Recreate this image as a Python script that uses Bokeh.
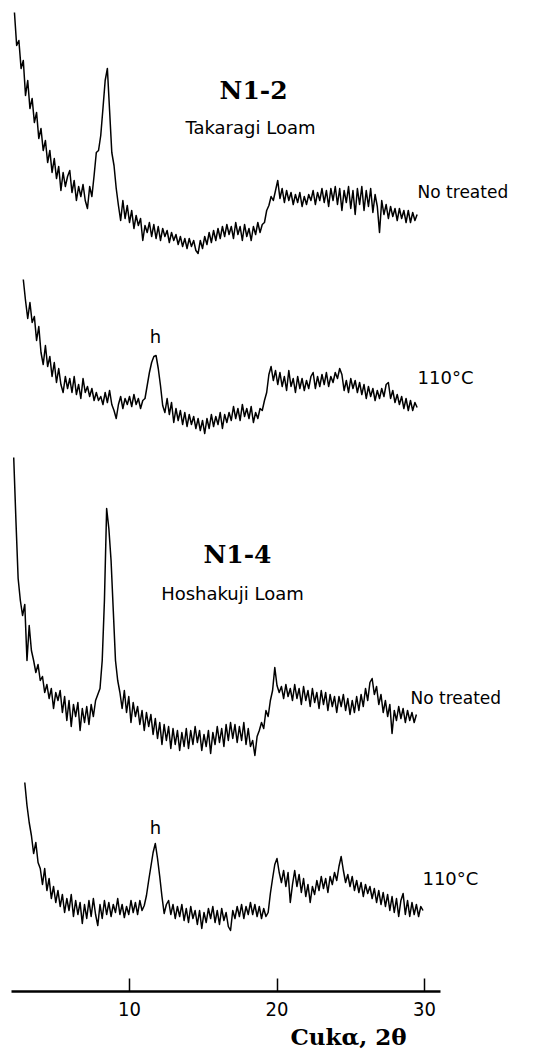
import numpy as np
from bokeh.plotting import figure
from bokeh.models import Range1d, FixedTicker, Label, Title
from bokeh.embed import file_html
from bokeh.resources import INLINE

# ---- diffractometer scans (Cu Kα), step 0.15° 2θ ----
SCAN_STEP = 0.15
scan_start = {"n12_raw": 2.20, "n12_110": 2.80, "n14_raw": 2.15, "n14_110": 2.90}

# N1-2 Takaragi Loam, untreated (recorder deflection, arbitrary units)
n12_raw = [
    248, 215, 220, 192, 200, 165, 180, 152, 162, 138,
    148, 122, 132, 110, 120, 98, 110, 88, 102, 82,
    94, 70, 88, 74, 84, 90, 68, 80, 60, 74,
    64, 76, 60, 52, 74, 64, 85, 108, 110, 125,
    152, 180, 192, 150, 108, 95, 72, 55, 40, 60,
    42, 55, 38, 50, 32, 45, 35, 42, 20, 35,
    28, 38, 24, 36, 22, 34, 20, 32, 24, 30,
    18, 28, 20, 26, 16, 24, 14, 22, 12, 22,
    14, 20, 10, 7, 20, 12, 24, 16, 28, 18,
    30, 20, 32, 22, 34, 24, 36, 26, 34, 22,
    38, 26, 34, 20, 36, 24, 32, 20, 34, 26,
    38, 28, 36, 38, 50, 55, 64, 60, 70, 80,
    62, 72, 58, 70, 60, 68, 56, 66, 58, 68,
    54, 64, 56, 66, 60, 70, 56, 68, 60, 72,
    58, 70, 54, 72, 60, 74, 56, 72, 50, 70,
    58, 74, 52, 70, 46, 72, 56, 74, 50, 70,
    54, 72, 48, 66, 54, 28, 60, 46, 56, 42,
    54, 44, 52, 40, 52, 42, 50, 38, 50, 38,
    48, 40, 46,
]

# N1-2 Takaragi Loam, heated 110 °C
n12_110 = [
    161, 140, 122, 138, 118, 124, 100, 114, 88, 76,
    95, 74, 84, 64, 78, 58, 72, 56, 48, 64,
    52, 62, 48, 64, 46, 56, 42, 62, 48, 54,
    44, 52, 40, 48, 40, 44, 36, 48, 38, 50,
    36, 30, 22, 36, 44, 32, 42, 36, 44, 34,
    46, 36, 42, 32, 40, 42, 55, 68, 78, 84,
    85, 72, 55, 35, 28, 42, 26, 38, 18, 32,
    20, 30, 16, 28, 14, 26, 16, 24, 12, 22,
    10, 20, 7, 22, 12, 26, 14, 24, 16, 28,
    12, 26, 18, 28, 20, 34, 22, 32, 20, 36,
    24, 32, 22, 34, 18, 28, 22, 32, 30, 40,
    48, 66, 74, 60, 70, 56, 68, 54, 64, 50,
    70, 54, 62, 48, 64, 52, 62, 50, 60, 52,
    64, 68, 52, 64, 54, 66, 56, 68, 54, 64,
    58, 68, 62, 72, 66, 50, 60, 48, 62, 52,
    60, 48, 58, 46, 56, 42, 54, 44, 52, 40,
    50, 42, 52, 44, 56, 58, 42, 50, 38, 46,
    36, 44, 32, 42, 30, 40, 30, 38, 33,
]

# N1-4 Hoshakuji Loam, untreated
n14_raw = [
    303, 240, 182, 160, 145, 156, 100, 135, 110, 100,
    88, 96, 80, 84, 68, 76, 62, 72, 52, 68,
    60, 70, 48, 64, 40, 60, 34, 56, 44, 58,
    30, 52, 38, 54, 36, 56, 44, 60, 66, 72,
    100, 160, 252, 232, 200, 150, 100, 80, 68, 52,
    70, 48, 64, 38, 58, 44, 54, 36, 50, 30,
    48, 34, 46, 26, 42, 22, 38, 16, 36, 20,
    34, 12, 32, 16, 30, 10, 28, 14, 32, 12,
    30, 16, 34, 18, 30, 10, 26, 14, 30, 7,
    28, 16, 34, 18, 32, 14, 36, 20, 38, 22,
    36, 18, 34, 20, 38, 16, 32, 14, 20, 5,
    24, 30, 38, 32, 50, 44, 60, 70, 93, 75,
    68, 74, 62, 76, 64, 72, 60, 76, 62, 72,
    56, 74, 60, 70, 54, 72, 58, 68, 52, 70,
    56, 68, 50, 66, 54, 64, 48, 64, 54, 66,
    50, 62, 46, 60, 48, 64, 50, 66, 54, 72,
    60, 78, 82, 66, 74, 56, 66, 48, 60, 44,
    56, 27, 50, 40, 54, 42, 52, 38, 50, 40,
    48, 38, 46,
]

# N1-4 Hoshakuji Loam, heated 110 °C
n14_110 = [
    168, 145, 128, 115, 97, 108, 88, 82, 66, 82,
    60, 72, 52, 64, 48, 60, 44, 56, 38, 52,
    40, 56, 34, 50, 36, 48, 27, 46, 32, 50,
    34, 52, 36, 25, 46, 32, 50, 36, 48, 34,
    46, 38, 52, 36, 46, 33, 44, 36, 50, 38,
    48, 36, 50, 40, 45, 55, 70, 84, 98, 107,
    92, 74, 54, 37, 46, 50, 36, 46, 32, 44,
    34, 46, 30, 42, 28, 44, 32, 40, 26, 40,
    22, 38, 28, 42, 32, 44, 28, 40, 26, 42,
    30, 38, 24, 20, 40, 32, 44, 34, 46, 32,
    44, 36, 48, 36, 46, 34, 44, 32, 42, 34,
    38, 57, 72, 86, 92, 78, 68, 80, 64, 78,
    48, 66, 80, 64, 76, 58, 72, 54, 66, 48,
    64, 56, 70, 60, 74, 62, 72, 58, 74, 66,
    78, 70, 84, 94, 80, 68, 76, 64, 74, 60,
    70, 58, 68, 54, 66, 57, 64, 52, 62, 48,
    60, 46, 58, 44, 56, 40, 54, 38, 52, 34,
    50, 57, 36, 50, 34, 48, 36, 46, 34, 44,
    40,
]

scans = {"n12_raw": n12_raw, "n12_110": n12_110, "n14_raw": n14_raw, "n14_110": n14_110}

# vertical stacking of the four patterns
stack_offset = {"n12_raw": 731, "n12_110": 551, "n14_raw": 231, "n14_110": 41}

x_ticks = [10, 20, 30]

p = figure(
    width=545, height=1060,
    x_range=Range1d(1.254, 38.203), y_range=Range1d(0, 991),
    output_backend="svg", toolbar_location=None,
    y_axis_location=None,
    min_border_left=0, min_border_right=0, min_border_top=0, min_border_bottom=69,
    background_fill_color="white", border_fill_color="white",
)
p.outline_line_color = None
p.xgrid.visible = False
p.ygrid.visible = False

for key, counts in scans.items():
    tt = scan_start[key] + SCAN_STEP * np.arange(len(counts))
    yy = np.asarray(counts, dtype=float) + stack_offset[key]
    p.line(tt, yy, line_color="black", line_width=1.5, line_join="round")

ax = p.xaxis[0]
ax.ticker = FixedTicker(ticks=x_ticks)
ax.bounds = (2.0, 31.08)
ax.axis_line_width = 2.5
ax.axis_line_color = "black"
ax.major_tick_in = 13
ax.major_tick_out = 0
ax.major_tick_line_width = 1.5
ax.major_tick_line_color = "black"
ax.minor_tick_line_color = None
ax.major_label_standoff = 10
ax.major_label_text_font = "'Liberation Sans Narrow', 'DejaVu Sans Condensed', 'Liberation Sans'"
ax.major_label_text_font_size = "20px"
ax.major_label_text_color = "black"

# axis caption, set right of centre under the scale
p.add_layout(Title(
    text="Cukα, 2θ", align="left", offset=290, standoff=5,
    text_font="DejaVu Serif", text_font_style="bold", text_font_size="23px",
    text_color="black",
), "below")

SANS = "DejaVu Sans"
SERIF = "DejaVu Serif"

def note(x, y, text, size, font=SANS, align="left", bold=False):
    p.add_layout(Label(
        x=x, y=y, text=text, text_align=align, text_baseline="middle",
        text_font=font, text_font_size=size, text_color="black",
        text_font_style="bold" if bold else "normal",
    ))

# sample headings
note(18.41, 901, "N1-2", "25px", font=SERIF, align="center", bold=True)
note(18.20, 864, "Takaragi Loam", "18px", align="center")
note(17.32, 437, "N1-4", "25px", font=SERIF, align="center", bold=True)
note(16.98, 398, "Hoshakuji Loam", "18px", align="center")

# treatment labels
note(29.53, 800, "No treated", "17px")
note(29.53, 614, "110°C", "18px")
note(29.05, 294, "No treated", "17px")
note(29.86, 113, "110°C", "18px")

# halloysite reflections
note(11.76, 655, "h", "18px", align="center")
note(11.76, 164, "h", "18px", align="center")

open("out.html", "w").write(file_html(p, INLINE))
